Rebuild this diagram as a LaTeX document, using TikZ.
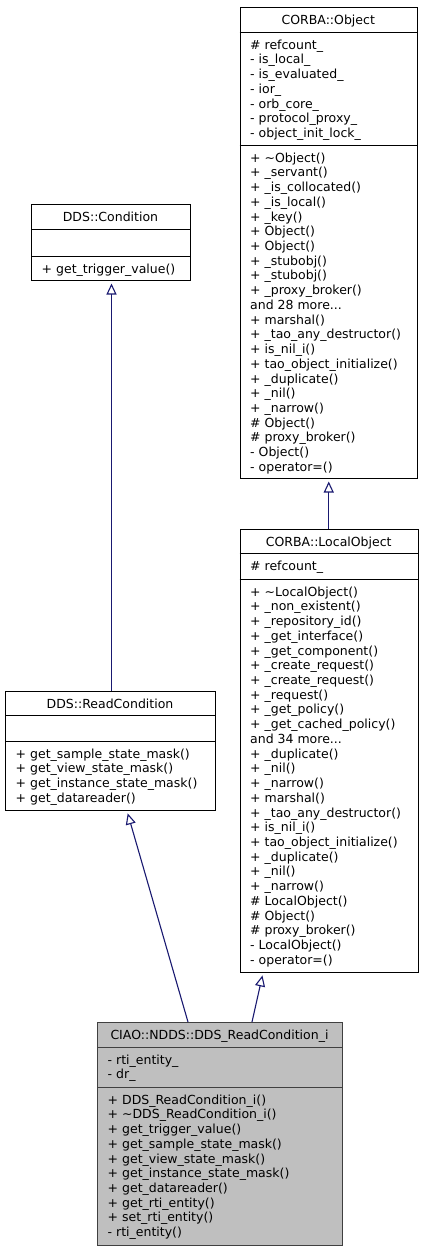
\documentclass[tikz,border=0pt]{standalone}
\usepackage{fontspec}
\setmainfont{DejaVu Sans}
\usetikzlibrary{arrows.meta}
\definecolor{edgeblue}{HTML}{191970}
\newcommand{\fs}{\fontsize{12.5}{14.72}\selectfont}
\newcommand{\tl}{\textasciitilde}
\tikzset{
  cls/.style={rectangle, draw=black, line width=1pt, fill=white, inner sep=0pt, anchor=north west},
  curcls/.style={cls, fill=black!25, draw=black!75},
  sepline/.style={line width=1pt, draw=black},
  cursep/.style={line width=1pt, draw=black!75},
  ctitle/.style={anchor=base, inner sep=0pt, font=\fs},
  members/.style={anchor=north west, inner sep=0pt, align=left, font=\fs},
  inh/.style={draw=edgeblue, line width=1.1pt, -{Triangle[fill=white, length=11pt, width=10pt]}, shorten >=2.5pt}
}
\begin{document}
\begin{tikzpicture}[x=1pt, y=-1pt]
\useasboundingbox (0,0) rectangle (424,1251);

% ---------- CORBA::Object ----------
\node[cls, minimum width=177.5pt, minimum height=471pt] (obj) at (239.5,7) {};
\draw[sepline] ([yshift=-25pt]obj.north west) -- ([yshift=-25pt]obj.north east);
\draw[sepline] ([yshift=-138pt]obj.north west) -- ([yshift=-138pt]obj.north east);
\node[ctitle] (objT) at (328.25,24) {CORBA::Object};
\node[members] (objA) at (250,38.7) {\strut\# refcount\_\\- is\_local\_\\- is\_evaluated\_\\- ior\_\\- orb\_core\_\\- protocol\_proxy\_\\- object\_init\_lock\_};
\node[members] (objM) at (250,151.7) {\strut+ \tl Object()\\+ \_servant()\\+ \_is\_collocated()\\+ \_is\_local()\\+ \_key()\\+ Object()\\+ Object()\\+ \_stubobj()\\+ \_stubobj()\\+ \_proxy\_broker()\\and 28 more...\\+ marshal()\\+ \_tao\_any\_destructor()\\+ is\_nil\_i()\\+ tao\_object\_initialize()\\+ \_duplicate()\\+ \_nil()\\+ \_narrow()\\\# Object()\\\# proxy\_broker()\\- Object()\\- operator=()};

% ---------- CORBA::LocalObject ----------
\node[cls, minimum width=178.5pt, minimum height=443pt] (lo) at (239.5,529) {};
\draw[sepline] ([yshift=-24.5pt]lo.north west) -- ([yshift=-24.5pt]lo.north east);
\draw[sepline] ([yshift=-50pt]lo.north west) -- ([yshift=-50pt]lo.north east);
\node[ctitle] (loT) at (328.75,546) {CORBA::LocalObject};
\node[members] (loA) at (250,560.2) {\strut\# refcount\_};
\node[members] (loM) at (250,585.7) {\strut+ \tl LocalObject()\\+ \_non\_existent()\\+ \_repository\_id()\\+ \_get\_interface()\\+ \_get\_component()\\+ \_create\_request()\\+ \_create\_request()\\+ \_request()\\+ \_get\_policy()\\+ \_get\_cached\_policy()\\and 34 more...\\+ \_duplicate()\\+ \_nil()\\+ \_narrow()\\+ marshal()\\+ \_tao\_any\_destructor()\\+ is\_nil\_i()\\+ tao\_object\_initialize()\\+ \_duplicate()\\+ \_nil()\\+ \_narrow()\\\# LocalObject()\\\# Object()\\\# proxy\_broker()\\- LocalObject()\\- operator=()};

% ---------- DDS::Condition ----------
\node[cls, minimum width=159pt, minimum height=76pt] (cond) at (31,204) {};
\draw[sepline] ([yshift=-25pt]cond.north west) -- ([yshift=-25pt]cond.north east);
\draw[sepline] ([yshift=-52pt]cond.north west) -- ([yshift=-52pt]cond.north east);
\node[ctitle] (condT) at (110.5,221) {DDS::Condition};
\node[members] (condM) at (41.5,262.5) {\strut+ get\_trigger\_value()};

% ---------- DDS::ReadCondition ----------
\node[cls, minimum width=210pt, minimum height=119pt] (rc) at (5,691) {};
\draw[sepline] ([yshift=-24pt]rc.north west) -- ([yshift=-24pt]rc.north east);
\draw[sepline] ([yshift=-50pt]rc.north west) -- ([yshift=-50pt]rc.north east);
\node[ctitle] (rcT) at (110,708) {DDS::ReadCondition};
\node[members] (rcM) at (15.5,747.7) {\strut+ get\_sample\_state\_mask()\\+ get\_view\_state\_mask()\\+ get\_instance\_state\_mask()\\+ get\_datareader()};

% ---------- CIAO::NDDS::DDS_ReadCondition_i ----------
\node[curcls, minimum width=245pt, minimum height=223pt] (ddsi) at (97,1022) {};
\draw[cursep] ([yshift=-25pt]ddsi.north west) -- ([yshift=-25pt]ddsi.north east);
\draw[cursep] ([yshift=-65pt]ddsi.north west) -- ([yshift=-65pt]ddsi.north east);
\node[ctitle] (ddsiT) at (219.5,1039) {CIAO::NDDS::DDS\_ReadCondition\_i};
\node[members] (ddsiA) at (107.5,1053.7) {\strut- rti\_entity\_\\- dr\_};
\node[members] (ddsiM) at (107.5,1093.7) {\strut+ DDS\_ReadCondition\_i()\\+ \tl DDS\_ReadCondition\_i()\\+ get\_trigger\_value()\\+ get\_sample\_state\_mask()\\+ get\_view\_state\_mask()\\+ get\_instance\_state\_mask()\\+ get\_datareader()\\+ get\_rti\_entity()\\+ set\_rti\_entity()\\- rti\_entity()};

% ---------- inheritance connectors ----------
\draw[inh] ([xshift=0.5pt]cond.south |- rc.north) -- ([xshift=0.5pt]cond.south);
\draw[inh] (obj.south |- lo.north) -- (obj.south);
\draw[inh] ([xshift=91pt]ddsi.north west) -- ([xshift=122pt]rc.south west);
\draw[inh] ([xshift=155pt]ddsi.north west) -- ([xshift=23.5pt]lo.south west);
\end{tikzpicture}
\end{document}
